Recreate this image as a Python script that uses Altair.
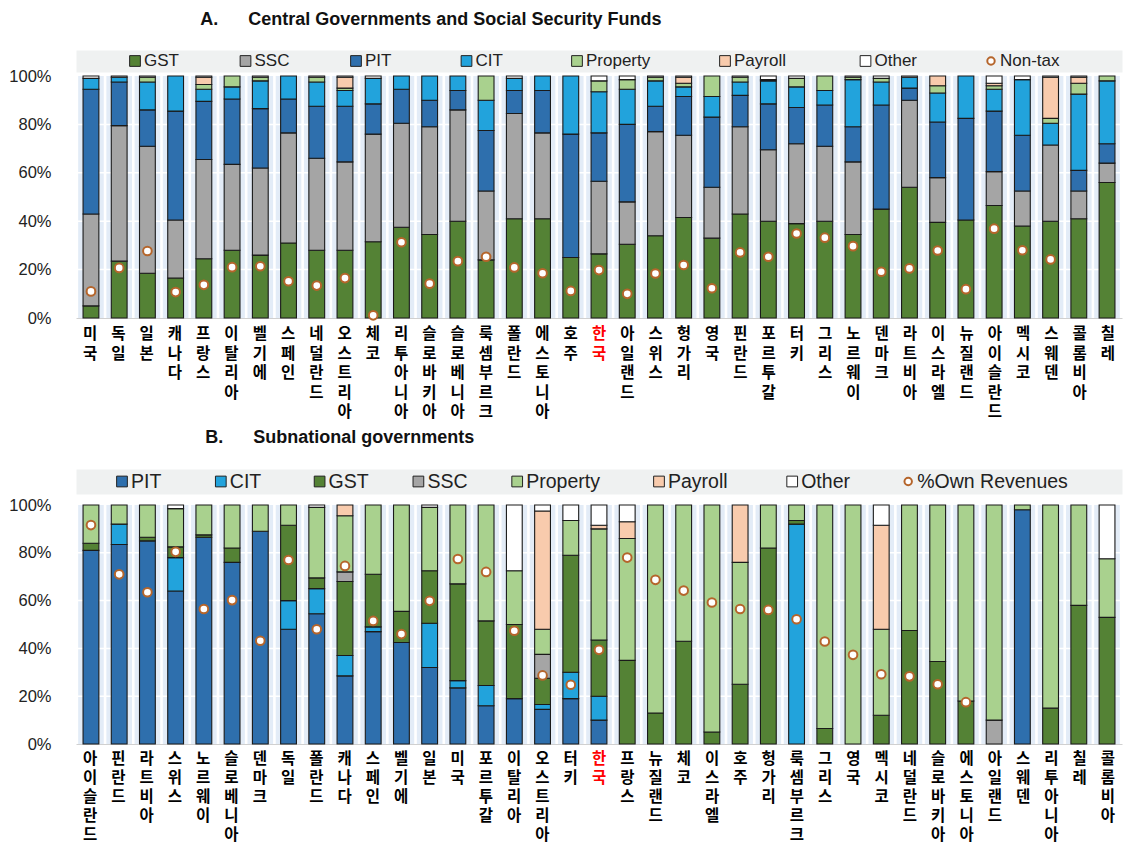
import altair as alt
import pandas as pd

# ---------------- Panel A data ----------------
countries_a = ["미국", "독일", "일본", "캐나다", "프랑스", "이탈리아", "벨기에", "스페인", "네덜란드",
               "오스트리아", "체코", "리투아니아", "슬로바키아", "슬로베니아", "룩셈부르크", "폴란드",
               "에스토니아", "호주", "한국", "아일랜드", "스위스", "헝가리", "영국", "핀란드", "포르투갈",
               "터키", "그리스", "노르웨이", "덴마크", "라트비아", "이스라엘", "뉴질랜드", "아이슬란드",
               "멕시코", "스웨덴", "콜롬비아", "칠레"]
gst_a = [5, 23.5, 18.5, 16.5, 24.5, 28, 26, 31, 28, 28, 31.5, 37.5, 34.5, 40, 24, 41, 41, 25, 26.5, 30.5,
         34, 41.5, 33, 43, 40, 39, 40, 34.5, 45, 54, 39.5, 40.5, 46.5, 38, 40, 41, 56]
ssc_a = [38, 56, 52.5, 24, 41, 35.5, 36, 45.5, 38, 36.5, 44.5, 43, 44.5, 46, 28.5, 43.5, 35.5, 0, 30, 17.5,
         43, 34, 21, 36, 29.5, 33, 31, 30, 0, 36, 18.5, 0, 14, 14.5, 31.5, 11.5, 8]
pit_a = [51.5, 18, 15, 45, 24, 27, 24.5, 14, 21.5, 23, 12.5, 14, 11, 8, 25, 9.5, 17.5, 51, 20, 32,
         10.5, 16, 29, 13, 19, 15, 17, 14.5, 43, 5, 23, 42, 25, 23, 0, 8.5, 8]
cit_a = [4.5, 2, 11.5, 14.5, 5, 5, 11.5, 9.5, 10, 6.5, 10.5, 5.5, 10, 6, 12.5, 5, 6, 24, 17, 14.5,
         10.5, 4, 8.5, 5.5, 9.5, 8.5, 6, 19.5, 9.5, 4.5, 12, 17.5, 9, 23, 9, 31.5, 26]
property_a = [0, 0, 2, 0, 2, 4.5, 1.5, 0, 2, 1, 0, 0, 0, 0, 10, 0, 0, 0, 4.5, 4,
              1.5, 1.5, 8.5, 2, 0.5, 3.5, 6, 1, 1.5, 0, 3, 0, 1.5, 0, 2, 4.5, 2]
payroll_a = [0, 0, 0, 0, 3, 0, 0, 0, 0, 4.5, 0, 0, 0, 0, 0, 0, 0, 0, 0, 0,
             0, 2.5, 0, 0, 0, 0, 0, 0, 0, 0, 4, 0, 1, 0, 17, 2.5, 0]
other_a = [1, 0.5, 0.5, 0, 0.5, 0, 0.5, 0, 0.5, 0.5, 1, 0, 0, 0, 0, 1, 0, 0, 2, 1.5,
           0.5, 0.5, 0, 0.5, 1.5, 1, 0, 0.5, 1, 0.5, 0, 0, 3, 1.5, 0.5, 0.5, 0]
nontax_a = [11, 20.7, 27.7, 10.7, 13.7, 21, 21.4, 15.2, 13.4, 16.5, 1.1, 31.3, 14.2, 23.5, 25.3, 20.9,
            18.5, 11.2, 19.8, 10, 18.4, 21.9, 12.3, 27.1, 25.3, 34.9, 33.2, 29.7, 19.1, 20.5, 27.9,
            11.9, 36.9, 28, 24.2, None, None]

# ---------------- Panel B data ----------------
countries_b = ["아이슬란드", "핀란드", "라트비아", "스위스", "노르웨이", "슬로베니아", "덴마크", "독일",
               "폴란드", "캐나다", "스페인", "벨기에", "일본", "미국", "포르투갈", "이탈리아", "오스트리아",
               "터키", "한국", "프랑스", "뉴질랜드", "체코", "이스라엘", "호주", "헝가리", "룩셈부르크",
               "그리스", "영국", "멕시코", "네덜란드", "슬로바키아", "에스토니아", "아일랜드", "스웨덴",
               "리투아니아", "칠레", "콜롬비아"]
pit_b = [81, 83.5, 85, 64, 86.5, 76, 89, 48, 54.5, 28.5, 47, 42.5, 32, 23.5, 16, 19, 14.5, 19, 10, 0,
         0, 0, 0, 0, 0, 0, 0, 0, 0, 0, 0, 0, 0, 98, 0, 0, 0]
cit_b = [0, 8.5, 0, 14, 0, 0, 0, 12, 10.5, 8.5, 2, 0, 18.5, 3, 8.5, 0, 2, 11, 10, 0,
         0, 0, 0, 0, 0, 92, 0, 0, 0, 0, 0, 0, 0, 0, 0, 0, 0]
gst_b = [3, 0, 1.5, 4.5, 1, 6, 0, 31.5, 4.5, 31, 22, 13, 22, 40.5, 27, 31, 11, 49, 23.5, 35,
         13, 43, 5, 25, 82, 1.5, 6.5, 0, 12, 47.5, 34.5, 18, 0, 0, 15, 58, 53]
ssc_b = [0, 0, 0, 0, 0, 0, 0, 0, 0, 4, 0, 0, 0, 0, 0, 0, 10, 0, 0, 0,
         0, 0, 0, 0, 0, 0, 0, 0, 0, 0, 0, 0, 10, 0, 0, 0, 0]
property_b = [16, 8, 13.5, 16, 12.5, 18, 11, 8.5, 29.5, 23.5, 29, 44.5, 26.5, 33, 48.5, 22.5, 10.5, 14.5,
              46.5, 51, 87, 57, 95, 51, 18, 6.5, 93.5, 100, 36, 52.5, 65.5, 82, 90, 2, 85, 42, 24.5]
payroll_b = [0, 0, 0, 0, 0, 0, 0, 0, 0, 4.5, 0, 0, 0, 0, 0, 0, 49.5, 0, 1.5, 7,
             0, 0, 0, 24, 0, 0, 0, 0, 43.5, 0, 0, 0, 0, 0, 0, 0, 0]
other_b = [0, 0, 0, 1.5, 0, 0, 0, 0, 1, 0, 0, 0, 1, 0, 0, 27.5, 2.5, 6.5, 8.5, 7,
           0, 0, 0, 0, 0, 0, 0, 0, 8.5, 0, 0, 0, 0, 0, 0, 0, 22.5]
own_b = [91.6, 71, 63.5, 80.4, 56.5, 60.2, 43.2, 77, 48, 74.5, 51.5, 46, 59.9, 77.4, 72, 47.4, 28.7,
         24.8, 39.4, 78, 68.7, 64.2, 59.2, 56.5, 56.1, 52.2, 42.9, 37.3, 29.2, 28.3, 25, 17.5,
         None, None, None, None, None]

# ---------------- styling ----------------
COLORS = {"GST": "#548235", "SSC": "#a5a5a5", "PIT": "#2e6fad", "CIT": "#22a3dc",
          "Property": "#a9d18e", "Payroll": "#f8cbad", "Other": "#ffffff"}
BROWN = "#b5652b"
BG = "#e3ecf7"
KFONT = "Liberation Sans, Noto Sans CJK KR, sans-serif"
LFONT = "Liberation Sans"
W = 1046


def band_scale():
    return alt.Scale(paddingInner=0.44, paddingOuter=0.25)


def make_plot(countries, series, order, points, height):
    rows = []
    for k, t in enumerate(order):
        for c, v in zip(countries, series[t]):
            if v > 0:
                rows.append({"country": c, "type": t, "value": v, "ord": k})
    bars_df = pd.DataFrame(rows)
    bg_df = pd.DataFrame({"country": countries, "top": [100] * len(countries)})
    pts_df = pd.DataFrame({"country": countries, "pt": points}).dropna()
    grid_df = pd.DataFrame({"g": [20, 40, 60, 80]})

    yscale = alt.Scale(domain=[0, 100], nice=False)
    xaxis = alt.Axis(title=None, labels=False, ticks=False, domain=True, domainColor="#d0d0d0",
                     grid=False)
    yaxis = alt.Axis(title=None, values=[0, 20, 40, 60, 80, 100], labelExpr="datum.value + '%'",
                     labelFont=LFONT, labelFontSize=16.5, labelColor="#222222", labelPadding=25,
                     ticks=False, domain=False, grid=False)

    def xenc():
        return alt.X("country:N", sort=countries, scale=band_scale(), axis=xaxis)

    def yenc(field, **kw):
        return alt.Y(field, scale=yscale, axis=yaxis, **kw)

    bg = alt.Chart(bg_df).mark_bar(color=BG, width=alt.RelativeBandSize(1.62)).encode(
        x=xenc(), y=yenc("top:Q"))
    grid = alt.Chart(grid_df).mark_rule(color="white", strokeWidth=1.5).encode(
        y=yenc("g:Q"))
    bars = alt.Chart(bars_df).mark_bar(stroke="#1a1a1a", strokeWidth=1.1).encode(
        x=xenc(),
        y=yenc("value:Q", stack="zero"),
        fill=alt.Fill("type:N", scale=alt.Scale(domain=order, range=[COLORS[t] for t in order]),
                      legend=None),
        order=alt.Order("ord:Q", sort="ascending"))
    pts = alt.Chart(pts_df).mark_point(shape="circle", filled=True, fill="white", stroke=BROWN,
                                       strokeWidth=2, size=75, opacity=1).encode(
        x=xenc(), y=yenc("pt:Q"))
    return alt.layer(bg, grid, bars, pts).properties(
        width=W, height=height, view=alt.ViewBackground(fill="white", stroke="transparent"))


def make_labels(countries, step, dy, font_size):
    rows = []
    for c in countries:
        for i, ch in enumerate(c):
            rows.append({"country": c, "idx": i, "ch": ch})
    ldf = pd.DataFrame(rows)
    return alt.Chart(ldf).mark_text(baseline="top", align="center", font=KFONT, fontSize=font_size,
                                    fontWeight="bold", dy=dy).encode(
        x=alt.X("country:N", sort=countries, scale=band_scale(), axis=None),
        y=alt.Y("idx:Q", scale=alt.Scale(domain=[0, 4], reverse=True, nice=False, zero=False),
                axis=None),
        text=alt.Text("ch:N"),
        color=alt.condition(alt.datum.country == "한국", alt.value("#ff0000"), alt.value("#000000")),
    ).properties(width=W, height=4 * step,
                 view=alt.ViewBackground(fill="transparent", stroke="transparent"))


def make_legend(items, start, pad, charw, font_size, height):
    pos = []
    p = start
    for it in items:
        pos.append(p)
        p += pad + charw * len(it)
    kinds = ["sq"] * (len(items) - 1) + ["ci"]
    ldf = pd.DataFrame({"item": items, "pos": pos, "kind": kinds})
    x = alt.X("pos:Q", scale=alt.Scale(domain=[0, W], nice=False), axis=None)
    sq = alt.Chart(ldf).transform_filter("datum.kind == 'sq'").mark_square(
        size=115, stroke="#222222", strokeWidth=1, opacity=1).encode(
        x=x, fill=alt.Fill("item:N", scale=alt.Scale(domain=items[:-1],
                                                     range=[COLORS[i] for i in items[:-1]]),
                           legend=None))
    ci = alt.Chart(ldf).transform_filter("datum.kind == 'ci'").mark_point(
        shape="circle", filled=True, fill="white", stroke=BROWN, strokeWidth=2, size=55,
        opacity=1).encode(x=x)
    tx = alt.Chart(ldf).mark_text(align="left", baseline="middle", dx=9, fontSize=font_size,
                                  font=LFONT, color="#222222").encode(x=x, text="item:N")
    return alt.layer(sq, ci, tx).properties(
        width=W, height=height, view=alt.ViewBackground(fill="#eff1f1", stroke="transparent"))


order_a = ["GST", "SSC", "PIT", "CIT", "Property", "Payroll", "Other"]
series_a = {"GST": gst_a, "SSC": ssc_a, "PIT": pit_a, "CIT": cit_a, "Property": property_a,
            "Payroll": payroll_a, "Other": other_a}
order_b = ["PIT", "CIT", "GST", "SSC", "Property", "Payroll", "Other"]
series_b = {"GST": gst_b, "SSC": ssc_b, "PIT": pit_b, "CIT": cit_b, "Property": property_b,
            "Payroll": payroll_b, "Other": other_b}

legend_a = make_legend(order_a + ["Non-tax"], 59, 88, 7.5, 17, 22)
legend_b = make_legend(order_b + ["%Own Revenues"], 46, 73, 8.6, 19.5, 25)

plot_a = make_plot(countries_a, series_a, order_a, nontax_a, 242)
plot_b = make_plot(countries_b, series_b, order_b, own_b, 239)

labels_a = make_labels(countries_a, 19.5, 5, 15.5)
labels_b = make_labels(countries_b, 19, -3, 15.5)

NB = "\u00a0"
panel_a = alt.vconcat(legend_a, plot_a, labels_a, spacing=4, bounds="flush").properties(
    title=alt.TitleParams("A." + NB * 6 + "Central Governments and Social Security Funds",
                          anchor="start", frame="bounds", dx=192, fontSize=18, font=LFONT,
                          fontWeight="bold", color="#111111", offset=21))
panel_b = alt.vconcat(legend_b, plot_b, labels_b, spacing=11, bounds="flush").properties(
    title=alt.TitleParams("B." + NB * 6 + "Subnational governments",
                          anchor="start", frame="bounds", dx=197, fontSize=18, font=LFONT,
                          fontWeight="bold", color="#111111", offset=22))

chart = alt.vconcat(panel_a, panel_b, spacing=7).properties(
    padding={"top": 2, "left": 0, "right": 0, "bottom": 0}, background="white"
).configure_view(stroke="transparent")

chart.save("out.html", embed_options={"renderer": "svg", "actions": False})
